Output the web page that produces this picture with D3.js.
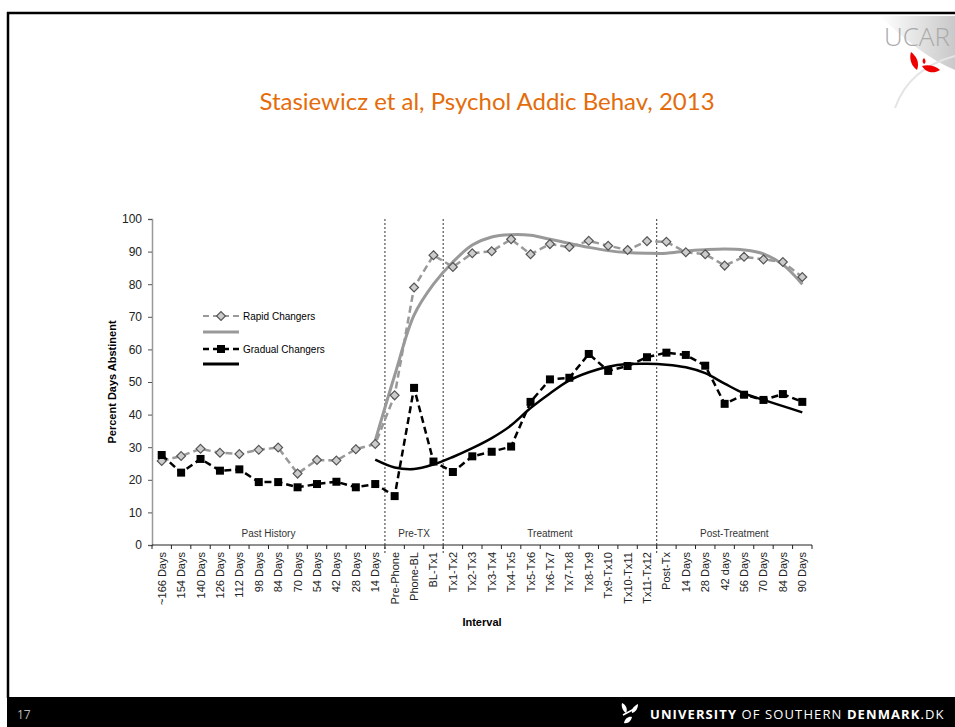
<!DOCTYPE html>
<html>
<head>
<meta charset="utf-8">
<script src="https://cdn.jsdelivr.net/npm/d3@7"></script>
<style>
  body { margin: 0; background: #fff; }
  svg { display: block; }
</style>
</head>
<body>
<svg id="slide" width="955" height="727"></svg>
<script>
/* Slide 17 - percent days abstinent, rapid vs gradual changers */
const categories = ["~166 Days", "154 Days", "140 Days", "126 Days", "112 Days", "98 Days", "84 Days",
  "70 Days", "54 Days", "42 Days", "28 Days", "14 Days",
  "Pre-Phone", "Phone-BL", "BL-Tx1",
  "Tx1-Tx2", "Tx2-Tx3", "Tx3-Tx4", "Tx4-Tx5", "Tx5-Tx6", "Tx6-Tx7", "Tx7-Tx8", "Tx8-Tx9",
  "Tx9-Tx10", "Tx10-Tx11", "Tx11-Tx12",
  "Post-Tx", "14 Days", "28 Days", "42 days", "56 Days", "70 Days", "84 Days", "90 Days"]

const rapid = [25.8, 27.3, 29.5, 28.3, 27.9, 29.2, 29.9, 21.9, 26.1, 25.9, 29.4, 31,
  45.9, 79, 88.9,
  85.3, 89.5, 90.1, 93.8, 89.2, 92.3, 91.4, 93.3, 91.8, 90.5, 93.2,
  93, 89.8, 89.2, 85.7, 88.4, 87.6, 86.8, 82.2]

const gradual = [27.6, 22.2, 26.4, 22.8, 23.2, 19.3, 19.3, 17.7, 18.7, 19.4, 17.7, 18.7,
  15, 48.2, 25.6,
  22.4, 27.2, 28.6, 30.2, 43.9, 50.8, 51.3, 58.6, 53.4, 54.9, 57.6,
  59, 58.3, 55, 43.3, 46.1, 44.5, 46.3, 43.9]

// fitted trend lines start at "14 Days" (index 11)
const trendStart = 11
const rapidTrend = [32, 52, 70.5, 80, 86.8, 92, 94.5, 95.2, 95, 93.8, 92.5, 91.3,
  90.3, 89.7, 89.5, 89.5, 90.2, 90.6, 90.8, 90.5, 89.3, 86, 80]
const gradualTrend = [26.2, 23.8, 23.3, 24.7, 27, 29.7, 32.8, 36.7, 42, 46.5, 50.5, 53,
  54.7, 55.5, 55.6, 55.3, 54.5, 52.7, 49.5, 46.5, 44.5, 42.6, 40.7]

const yTicks = [0, 10, 20, 30, 40, 50, 60, 70, 80, 90, 100]
// phases by category index (first, last)
const phases = [
  {name: "Past History", from: 0, to: 11},
  {name: "Pre-TX", from: 12, to: 14},
  {name: "Treatment", from: 15, to: 25},
  {name: "Post-Treatment", from: 26, to: 33}
]

const svg = d3.select("#slide")
const font = "'Open Sans', 'Liberation Sans', sans-serif"

/* slide frame */
svg.append("line").attr("x1", 7).attr("x2", 955).attr("y1", 13).attr("y2", 13)
  .attr("stroke", "#000").attr("stroke-width", 2.5)
svg.append("line").attr("x1", 8).attr("x2", 8).attr("y1", 12).attr("y2", 698)
  .attr("stroke", "#000").attr("stroke-width", 2.5)
svg.append("rect").attr("x", 7).attr("y", 697).attr("width", 948).attr("height", 30).attr("fill", "#000")
svg.append("text").attr("x", 17).attr("y", 719).attr("fill", "#bbb")
  .attr("font-family", font).attr("font-size", 12).text("17")

// footer logo
const logo = svg.append("g").attr("transform", "translate(620,703)")
logo.append("path").attr("d", "M2,0 C6,2 8,6 6,10 C3,8 1,4 2,0 Z").attr("fill", "#fff")
logo.append("path").attr("d", "M18,1 C14,3 11,6 12,10 C16,9 18,5 18,1 Z").attr("fill", "#fff")
logo.append("path").attr("d", "M4,20 C5,15 9,13 12,14 C11,18 8,21 4,20 Z").attr("fill", "#fff")
logo.append("path").attr("d", "M3,12 L16,5").attr("stroke", "#fff").attr("stroke-width", 1.5)
logo.append("text").attr("x", 30).attr("y", 16).attr("fill", "#fff")
  .attr("font-family", font).attr("font-size", 13).attr("letter-spacing", 1.1)
  .html("<tspan font-weight='bold'>UNIVERSITY</tspan> OF SOUTHERN <tspan font-weight='bold'>DENMARK</tspan>.DK")

// UCAR corner logo
const grad = svg.append("defs").append("linearGradient").attr("id", "ucar")
  .attr("x1", 0).attr("x2", 1).attr("y1", 0).attr("y2", 0)
grad.append("stop").attr("offset", 0).attr("stop-color", "#fff")
grad.append("stop").attr("offset", 1).attr("stop-color", "#bbb")
svg.append("path").attr("d", "M880,16 L955,16 L955,70 C930,60 905,40 880,16 Z").attr("fill", "url(#ucar)").attr("opacity", 0.8)
svg.append("text").attr("x", 884).attr("y", 46).attr("fill", "#aaa")
  .attr("font-family", font).attr("font-size", 26).attr("font-weight", 300).text("UCAR")
svg.append("path").attr("d", "M895,108 C905,80 925,64 955,56").attr("fill", "none")
  .attr("stroke", "#e4e4e4").attr("stroke-width", 2)
svg.append("path").attr("d", "M911,52 C916,56 920,62 917,70 C911,66 909,58 911,52 Z").attr("fill", "#e00")
svg.append("path").attr("d", "M922,66 C928,64 936,66 940,70 C934,74 926,73 922,66 Z").attr("fill", "#e00")
svg.append("path").attr("d", "M924,58 C926,60 926,63 924,64 C922,62 922,60 924,58 Z").attr("fill", "#e00")

/* title */
svg.append("text").attr("x", 487).attr("y", 110).attr("text-anchor", "middle")
  .attr("fill", "#e46c0a").attr("font-family", "'Lato', 'Open Sans', sans-serif").attr("font-size", 24)
  .text("Stasiewicz et al, Psychol Addic Behav, 2013")

/* chart */
const plotLeft = 152, plotRight = 812, plotTop = 219, plotBottom = 545

const x = d3.scaleBand().domain(d3.range(categories.length)).range([plotLeft, plotRight])
const y = d3.scaleLinear().domain([0, 100]).range([plotBottom, plotTop])
const cx = i => x(i) + x.bandwidth() / 2
const chartFont = "'Liberation Sans', 'Open Sans', sans-serif"

// y axis
const yAxis = svg.append("g").attr("transform", "translate(" + plotLeft + ",0)")
  .call(d3.axisLeft(y).tickValues(yTicks).tickSize(4).tickPadding(6))
yAxis.select(".domain").attr("stroke", "#999").attr("stroke-width", 1.5)
yAxis.selectAll(".tick line").attr("stroke", "#555")
yAxis.selectAll(".tick text").attr("font-family", chartFont).attr("font-size", 12).attr("fill", "#222")

// x axis: ticks at band boundaries
const xAxis = svg.append("g").attr("transform", "translate(0," + plotBottom + ")")
xAxis.append("line").attr("x1", plotLeft).attr("x2", plotRight).attr("stroke", "#222").attr("stroke-width", 1.2)
xAxis.selectAll("line.tk")
  .data(d3.range(categories.length + 1))
  .enter().append("line").attr("class", "tk")
  .attr("x1", i => plotLeft + i * x.step()).attr("x2", i => plotLeft + i * x.step())
  .attr("y1", 0).attr("y2", 4)
  .attr("stroke", "#222")
xAxis.selectAll("text")
  .data(categories)
  .enter().append("text")
  .attr("transform", (d, i) => "translate(" + (cx(i) + 4) + ",7) rotate(-90)")
  .attr("text-anchor", "end")
  .attr("font-family", chartFont).attr("font-size", 11).attr("fill", "#222")
  .text(d => d)

// phase dividers and labels
svg.selectAll("line.div")
  .data(phases.slice(1))
  .enter().append("line").attr("class", "div")
  .attr("x1", d => x(d.from)).attr("x2", d => x(d.from))
  .attr("y1", y(100)).attr("y2", plotBottom + 8)
  .attr("stroke", "#333").attr("stroke-width", 1).attr("stroke-dasharray", "2,2")

svg.selectAll("text.phase")
  .data(phases)
  .enter().append("text").attr("class", "phase")
  .attr("x", d => (x(d.from) + x(d.to) + x.bandwidth()) / 2)
  .attr("y", plotBottom - 8)
  .attr("text-anchor", "middle")
  .attr("font-family", chartFont).attr("font-size", 10).attr("fill", "#333")
  .text(d => d.name)

// axis titles
svg.append("text").attr("x", 482).attr("y", 626).attr("text-anchor", "middle")
  .attr("font-family", chartFont).attr("font-size", 11).attr("font-weight", "bold").text("Interval")
svg.append("text").attr("transform", "translate(116,382) rotate(-90)").attr("text-anchor", "middle")
  .attr("font-family", chartFont).attr("font-size", 11).attr("font-weight", "bold").text("Percent Days Abstinent")

// trend lines
const trendLine = d3.line()
  .x((d, i) => cx(i + trendStart))
  .y(d => y(d))
  .curve(d3.curveCatmullRom)

svg.append("path").attr("d", trendLine(rapidTrend))
  .attr("fill", "none").attr("stroke", "#999").attr("stroke-width", 3)
svg.append("path").attr("d", trendLine(gradualTrend))
  .attr("fill", "none").attr("stroke", "#000").attr("stroke-width", 2.5)

// observed series
const dataLine = d3.line()
  .x((d, i) => cx(i))
  .y(d => y(d))

svg.append("path").attr("d", dataLine(rapid))
  .attr("fill", "none").attr("stroke", "#999").attr("stroke-width", 2.5).attr("stroke-dasharray", "7,4")
svg.append("path").attr("d", dataLine(gradual))
  .attr("fill", "none").attr("stroke", "#000").attr("stroke-width", 2.5).attr("stroke-dasharray", "7,4")

const diamond = d3.symbol().type(d3.symbolDiamond2).size(50)
const square = d3.symbol().type(d3.symbolSquare).size(64)

svg.selectAll("path.rp")
  .data(rapid)
  .enter().append("path").attr("class", "rp")
  .attr("d", diamond)
  .attr("transform", (d, i) => "translate(" + cx(i) + "," + y(d) + ")")
  .attr("fill", "#ccc").attr("stroke", "#555").attr("stroke-width", 1.2)

svg.selectAll("path.gp")
  .data(gradual)
  .enter().append("path").attr("class", "gp")
  .attr("d", square)
  .attr("transform", (d, i) => "translate(" + cx(i) + "," + y(d) + ")")
  .attr("fill", "#000")

// legend
const legend = svg.append("g").attr("transform", "translate(203,316)")
legend.append("line").attr("x1", 0).attr("x2", 36).attr("stroke", "#999").attr("stroke-width", 2).attr("stroke-dasharray", "6,4")
legend.append("path").attr("d", diamond).attr("transform", "translate(18,0)")
  .attr("fill", "#ccc").attr("stroke", "#555").attr("stroke-width", 1.2)
legend.append("text").attr("x", 40).attr("y", 4).attr("font-family", chartFont).attr("font-size", 10).text("Rapid Changers")
legend.append("line").attr("x1", 0).attr("x2", 36).attr("y1", 16).attr("y2", 16).attr("stroke", "#999").attr("stroke-width", 3)
legend.append("line").attr("x1", 0).attr("x2", 36).attr("y1", 33).attr("y2", 33).attr("stroke", "#000").attr("stroke-width", 2.5).attr("stroke-dasharray", "6,4")
legend.append("path").attr("d", square).attr("transform", "translate(18,33)").attr("fill", "#000")
legend.append("text").attr("x", 40).attr("y", 37).attr("font-family", chartFont).attr("font-size", 10).text("Gradual Changers")
legend.append("line").attr("x1", 0).attr("x2", 36).attr("y1", 48).attr("y2", 48).attr("stroke", "#000").attr("stroke-width", 3)
</script>
</body>
</html>
